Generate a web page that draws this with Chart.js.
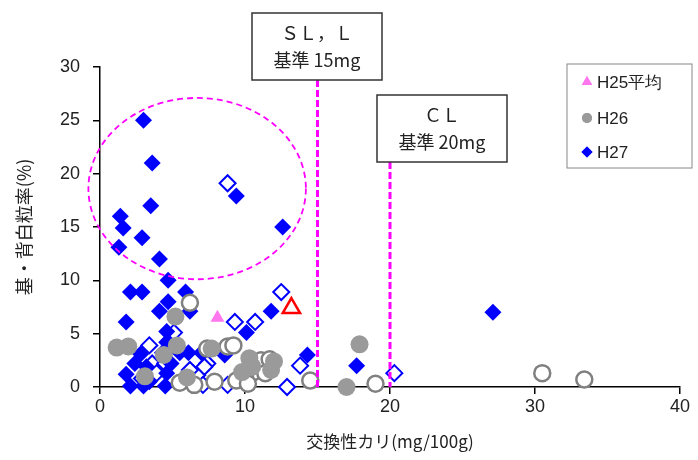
<!DOCTYPE html>
<html lang="ja">
<head>
<meta charset="utf-8">
<script src="https://cdn.jsdelivr.net/npm/chart.js@4.4.1/dist/chart.umd.min.js"></script>
<style>
  html, body { margin: 0; padding: 0; background: #fff; }
</style>
</head>
<body>
<canvas id="chart" width="698" height="460"></canvas>
<script>
// ——— data (x: 交換性カリ mg/100g, y: 基・背白粒率 %) ———
const h25AvgX = [8.1];
const h25AvgY = [6.5];

const h25OtherX = [13.2];
const h25OtherY = [7.4];

const h26FilledX = [1.15, 1.95, 5.2, 5.3, 3.1, 7.7, 10.3, 11.8, 10.5, 9.8, 17.9, 17.0, 12.0, 6.0, 4.4];
const h26FilledY = [3.7, 3.8, 6.6, 3.9, 1.0, 3.6, 2.7, 1.6, 1.9, 1.4, 4.0, 0.0, 2.4, 0.9, 3.0];

const h26OpenX = [14.5, 19.0, 30.5, 33.4, 6.2, 8.8, 7.4, 11.1, 11.7, 10.6, 11.4, 10.0, 9.4, 7.9, 5.5, 6.5, 9.2, 10.2];
const h26OpenY = [0.6, 0.3, 1.3, 0.7, 7.9, 3.8, 3.6, 2.5, 2.6, 1.4, 1.3, 1.0, 0.6, 0.5, 0.4, 0.2, 3.9, 0.3];

const h27FilledX = [3.0, 3.6, 3.5, 1.4, 1.6, 2.9, 1.3, 4.1, 9.4, 12.6, 4.7, 2.1, 2.9, 5.9, 4.7, 4.1, 6.2, 1.8,
                    11.8, 10.1, 14.3, 17.7, 27.1, 2.8, 4.6, 4.3, 5.5, 4.9, 1.8, 2.1, 3.4, 4.5, 4.6, 6.1, 7.0,
                    8.6, 4.6, 3.2, 3.0, 2.4];
const h27FilledY = [25.0, 21.0, 17.0, 16.0, 14.9, 14.0, 13.1, 12.0, 17.9, 15.0, 10.0, 8.9, 8.9, 8.9, 8.0, 7.1, 7.1, 6.1,
                    7.1, 5.1, 3.0, 2.0, 7.0, 3.1, 4.2, 3.2, 3.2, 2.2, 1.2, 0.1, 0.5, 0.1, 1.3, 3.2, 3.2,
                    3.0, 5.2, 1.9, 0.1, 2.2];

const h27OpenX = [8.8, 12.5, 9.3, 10.7, 5.1, 3.4, 3.6, 4.5, 7.4, 6.4, 3.9, 6.7, 2.9, 5.9, 7.1, 8.8, 12.9, 13.8, 20.3, 6.2, 7.2];
const h27OpenY = [19.1, 8.9, 6.1, 6.1, 5.1, 3.9, 2.2, 2.2, 2.2, 1.3, 1.3, 1.1, 0.8, 0.8, 0.2, 0.2, 0.0, 2.0, 1.3, 1.6, 1.9];

const xTicks = [0, 10, 20, 30, 40];
const yTicks = [0, 5, 10, 15, 20, 25, 30];

const legendLabels = ["H25平均", "H26", "H27"];

// reference lines (mg) and the highlighted group
const limitSL = 15;
const limitCL = 20;
const ellipse = { cx: 6.7, cy: 18.6, rx: 7.5, ry: 8.5 };

const pts = (xs, ys) => xs.map((v, i) => ({ x: v, y: ys[i] }));

const BLUE = "#0000ff";
const GRAY = "#9a9a9a";
const MAGENTA = "#ff00ff";
const JP = "'Noto Sans CJK JP', 'Noto Sans', sans-serif";
const NUM = "'Liberation Sans', Arial, sans-serif";

// ——— overlays: ellipse, reference lines, boxes, legend ———
const overlay = {
  id: "overlay",
  afterDatasetsDraw(chart) {
    const { ctx, scales: { x, y } } = chart;
    ctx.save();

    // dashed ellipse
    const cx = x.getPixelForValue(ellipse.cx);
    const cy = y.getPixelForValue(ellipse.cy);
    const rx = x.getPixelForValue(ellipse.cx + ellipse.rx) - cx;
    const ry = cy - y.getPixelForValue(ellipse.cy + ellipse.ry);
    ctx.strokeStyle = MAGENTA;
    ctx.lineWidth = 1.8;
    ctx.setLineDash([6, 4]);
    ctx.beginPath();
    ctx.ellipse(cx, cy, rx, ry, 0, 0, Math.PI * 2);
    ctx.stroke();

    // vertical limit lines
    ctx.lineWidth = 3;
    ctx.setLineDash([7, 3]);
    const bottom = y.getPixelForValue(0);
    [[limitSL, 80], [limitCL, 162]].forEach(([v, top]) => {
      const px = x.getPixelForValue(v);
      ctx.beginPath();
      ctx.moveTo(px, top);
      ctx.lineTo(px, bottom);
      ctx.stroke();
    });
    ctx.restore();
  },
  afterDraw(chart) {
    const { ctx } = chart;
    ctx.save();

    // label boxes
    const boxes = [
      { l: 252, t: 13, r: 382, b: 80, lines: ["ＳＬ，Ｌ", "基準 15mg"] },
      { l: 377, t: 95, r: 507, b: 162, lines: ["ＣＬ", "基準 20mg"] }
    ];
    boxes.forEach(bx => {
      ctx.fillStyle = "#fff";
      ctx.fillRect(bx.l, bx.t, bx.r - bx.l, bx.b - bx.t);
      ctx.strokeStyle = "#333";
      ctx.lineWidth = 1.5;
      ctx.strokeRect(bx.l, bx.t, bx.r - bx.l, bx.b - bx.t);
      ctx.fillStyle = "#222";
      ctx.font = "18px " + JP;
      ctx.textAlign = "center";
      ctx.textBaseline = "middle";
      const mid = (bx.l + bx.r) / 2;
      ctx.fillText(bx.lines[0], mid, bx.t + 20);
      ctx.fillText(bx.lines[1], mid, bx.t + 47);
    });

    // legend
    ctx.strokeStyle = "#888";
    ctx.lineWidth = 1;
    ctx.strokeRect(567, 64, 125, 104);
    const rows = [82, 118, 152];
    const styles = [
      { style: "triangle", color: "#ff77ee", r: 6 },
      { style: "circle", color: GRAY, r: 5 },
      { style: "rectRot", color: BLUE, r: 5.5 }
    ];
    legendLabels.forEach((label, i) => {
      const s = styles[i];
      ctx.fillStyle = s.color;
      Chart.helpers.drawPoint(ctx, { pointStyle: s.style, radius: s.r, borderWidth: 0 }, 587, rows[i]);
      ctx.fill();
      ctx.fillStyle = "#222";
      ctx.font = "17px " + NUM;
      ctx.textAlign = "left";
      ctx.textBaseline = "middle";
      ctx.fillText(label, 597, rows[i] + 1);
    });
    ctx.restore();
  }
};

new Chart(document.getElementById("chart"), {
  type: "scatter",
  data: {
    datasets: [
      { label: "H26", data: pts(h26FilledX, h26FilledY), pointStyle: "circle", pointRadius: 9,
        backgroundColor: GRAY, borderColor: GRAY, borderWidth: 0, clip: false },
      { label: "H26 (open)", data: pts(h26OpenX, h26OpenY), pointStyle: "circle", pointRadius: 8,
        backgroundColor: "#fff", borderColor: "#808080", borderWidth: 2.5, clip: false },
      { label: "H27", data: pts(h27FilledX, h27FilledY), pointStyle: "rectRot", pointRadius: 8.5,
        backgroundColor: BLUE, borderColor: BLUE, borderWidth: 0, clip: false },
      { label: "H27 (open)", data: pts(h27OpenX, h27OpenY), pointStyle: "rectRot", pointRadius: 8,
        backgroundColor: "#fff", borderColor: BLUE, borderWidth: 2, clip: false },
      { label: "H25平均", data: pts(h25AvgX, h25AvgY), pointStyle: "triangle", pointRadius: 8,
        backgroundColor: "#ff77ee", borderColor: "#ff77ee", borderWidth: 0, clip: false },
      { label: "H25", data: pts(h25OtherX, h25OtherY), pointStyle: "triangle", pointRadius: 10,
        backgroundColor: "#fff", borderColor: "#ff0000", borderWidth: 2.5, clip: false }
    ]
  },
  options: {
    responsive: false,
    animation: false,
    layout: { padding: { top: 67, right: 18, left: 0, bottom: 0 } },
    plugins: {
      legend: { display: false },
      tooltip: { enabled: false }
    },
    scales: {
      x: {
        type: "linear", min: 0, max: 40,
        afterBuildTicks: s => { s.ticks = xTicks.map(v => ({ value: v })); },
        afterFit: s => { s.height = 73; },
        ticks: { padding: 2, color: "#222", font: { size: 18, family: NUM } },
        grid: { drawOnChartArea: false, tickLength: 7, color: "#000", lineWidth: 1.5 },
        border: { color: "#000", width: 1.5 },
        title: { display: true, text: "交換性カリ(mg/100g)", color: "#222",
                 font: { size: 17, family: JP }, padding: { top: 0, bottom: 8 } }
      },
      y: {
        type: "linear", min: 0, max: 30,
        afterBuildTicks: s => { s.ticks = yTicks.map(v => ({ value: v })); },
        afterFit: s => { s.width = 100; },
        ticks: { padding: 13, color: "#222", font: { size: 18, family: NUM } },
        grid: { drawOnChartArea: false, tickLength: 7, color: "#000", lineWidth: 1.5 },
        border: { color: "#000", width: 1.5 },
        title: { display: true, text: "基・背白粒率(%)", color: "#222",
                 font: { size: 18, family: JP }, padding: { top: 13, bottom: 0 } }
      }
    }
  },
  plugins: [overlay]
});
</script>
</body>
</html>
